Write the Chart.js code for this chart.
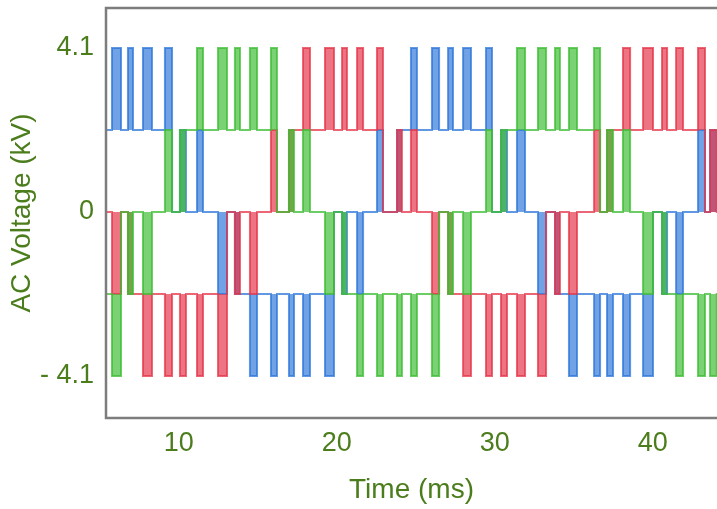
<!DOCTYPE html>
<html>
<head>
<meta charset="utf-8">
<script src="https://cdn.jsdelivr.net/npm/chart.js@4.4.1/dist/chart.umd.min.js"></script>
<style>
  html, body { margin: 0; padding: 0; background: #fff; }
  #wrap { width: 717px; height: 509px; }
</style>
</head>
<body>
<div id="wrap"><canvas id="chart" width="717" height="509"></canvas></div>
<script>
// switching pulses shared by the three phases (ms)
const pulseStart = [4.70, 5.78, 6.79, 7.74, 9.13, 10.08, 11.16, 12.49, 13.56, 14.51, 15.84, 16.98,
  17.87, 19.26, 20.34, 21.29, 22.55, 23.82, 24.70, 26.03, 27.05, 28.00, 29.45, 30.40,
  31.41, 32.74, 33.82, 34.70, 36.29, 37.11, 38.12, 39.39, 40.59, 41.48, 42.87, 43.63];
const pulseEnd = [5.08, 6.35, 7.11, 8.31, 9.58, 10.46, 11.54, 13.06, 13.88, 14.96, 16.22, 17.30,
  18.31, 19.83, 20.65, 21.67, 22.93, 24.13, 25.08, 26.48, 27.36, 28.50, 29.83, 30.78,
  31.92, 33.25, 34.13, 35.21, 36.67, 37.49, 38.57, 40.02, 40.91, 41.92, 43.31, 44.05];

// what each phase does at each pulse: [level during pulse, level after pulse] in kV
const pulseKinds = {
  U:   [4.1, 2.05],
  Ue:  [4.1, 0],
  Mu:  [2.05, 0],
  Mus: [2.05, 2.05],
  Ml:  [-2.05, 0],
  Mls: [-2.05, -2.05],
  L:   [-4.1, -2.05],
  Le:  [-4.1, 0]
};

const greenStart = -2.05;
const greenPulses = ['L','Le','Ml','Ml','Mu','Mus','U','U','U','U','Ue','Mu','Mu','Ml','Mls','L','L','L',
  'L','Le','Ml','Ml','Mu','Mus','U','U','U','U','Ue','Mu','Mu','Ml','Mls','L','L','L'];
const redStart = 0;
const redPulses = ['Mu','Ml','Mls','L','L','L','L','Le','Ml','Ml','Mu','Mus','U','U','U','U','Ue','Mu',
  'Mu','Ml','Mls','L','L','L','L','Le','Ml','Ml','Mu','Mus','U','U','U','U','Ue','Mu'];
const blueStart = 2.05;
const bluePulses = ['U','U','U','U','Ue','Mu','Mu','Ml','Mls','L','L','L','L','Le','Ml','Ml','Mu','Mus',
  'U','U','U','U','Ue','Mu','Mu','Ml','Mls','L','L','L','L','Le','Ml','Ml','Mu','Mus'];

const xTicks = [10, 20, 30, 40];
const yTicks = [4.1, 0, -4.1];
const yTickLabels = ['4.1', '0', '- 4.1'];

const textColor = '#4b7d1c';
const fontFamily = "'Liberation Sans', Arial, sans-serif";

// the waveform itself
function phasePoints(startLevel, kinds) {
  let pts = [{x: 3.5, y: startLevel}];
  let last = startLevel;
  kinds.forEach((k, i) => {
    let [peak, after] = pulseKinds[k];
    pts.push({x: pulseStart[i], y: peak});
    pts.push({x: pulseEnd[i], y: after});
    last = after;
  });
  pts.push({x: 46, y: last});
  return pts;
}

// the level each pulse starts from, so the pulse can be filled down to it
function basePoints(startLevel, kinds) {
  let pts = [{x: 3.5, y: startLevel}];
  let last = startLevel;
  kinds.forEach((k, i) => {
    let after = pulseKinds[k][1];
    pts.push({x: pulseStart[i], y: last});
    pts.push({x: pulseEnd[i], y: after});
    last = after;
  });
  pts.push({x: 46, y: last});
  return pts;
}

function phaseSets(label, startLevel, kinds, rgb) {
  return [
    {
      label: label,
      data: phasePoints(startLevel, kinds),
      borderColor: `rgba(${rgb},0.75)`,
      backgroundColor: `rgba(${rgb},0.68)`,
      borderWidth: 2,
      pointRadius: 0,
      stepped: 'before',
      fill: '+1'
    },
    {
      label: label + ' base',
      data: basePoints(startLevel, kinds),
      borderWidth: 0,
      borderColor: 'rgba(0,0,0,0)',
      pointRadius: 0,
      stepped: 'before',
      fill: false
    }
  ];
}

const framePlugin = {
  id: 'frame',
  afterDatasetsDraw(chart) {
    const {ctx, chartArea: a} = chart;
    ctx.save();
    ctx.strokeStyle = '#7d7d7d';
    ctx.lineWidth = 2.5;
    ctx.beginPath();
    ctx.moveTo(a.right + 5, a.top);
    ctx.lineTo(a.left, a.top);
    ctx.lineTo(a.left, a.bottom);
    ctx.lineTo(a.right + 5, a.bottom);
    ctx.stroke();
    ctx.restore();
  }
};

new Chart(document.getElementById('chart'), {
  type: 'line',
  data: {
    datasets: [
      ...phaseSets('Phase A', greenStart, greenPulses, '60,188,50'),
      ...phaseSets('Phase B', redStart, redPulses, '228,52,72'),
      ...phaseSets('Phase C', blueStart, bluePulses, '44,118,216')
    ]
  },
  options: {
    responsive: false,
    animation: false,
    layout: {padding: {left: 0, right: 0, top: 8, bottom: 0}},
    plugins: {legend: {display: false}, tooltip: {enabled: false}, filler: {propagate: false}},
    scales: {
      x: {
        type: 'linear',
        min: 5.4,
        max: 44.07,
        afterBuildTicks: s => { s.ticks = xTicks.map(v => ({value: v})); },
        afterFit: s => { s.height = 91; s.paddingLeft = 0; s.paddingRight = 0; },
        grid: {display: false, drawTicks: false},
        border: {display: false},
        ticks: {
          color: textColor,
          padding: 9,
          maxRotation: 0,
          font: {family: fontFamily, size: 27}
        },
        title: {
          display: true,
          text: 'Time (ms)',
          color: textColor,
          padding: {top: 0, bottom: 2},
          font: {family: fontFamily, size: 28}
        }
      },
      y: {
        type: 'linear',
        min: -5.15,
        max: 5.1,
        afterBuildTicks: s => { s.ticks = yTicks.map(v => ({value: v})); },
        afterFit: s => { s.width = 106; s.paddingTop = 0; s.paddingBottom = 0; },
        grid: {display: false, drawTicks: false},
        border: {display: false},
        ticks: {
          color: textColor,
          padding: 12,
          font: {family: fontFamily, size: 27},
          callback: v => yTickLabels[yTicks.indexOf(v)]
        },
        title: {
          display: true,
          text: 'AC Voltage (kV)',
          color: textColor,
          padding: {top: 5, bottom: 0},
          font: {family: fontFamily, size: 28}
        }
      }
    }
  },
  plugins: [framePlugin]
});
</script>
</body>
</html>
